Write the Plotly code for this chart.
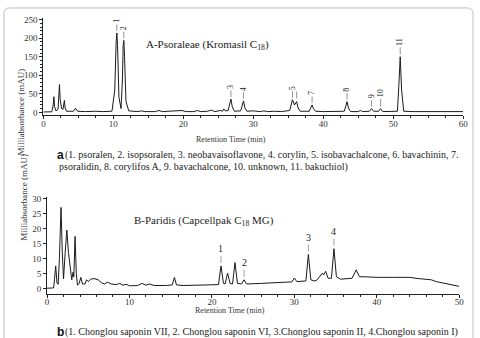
import plotly.graph_objects as go

# ---------------- data: panel A (Psoraleae) ----------------
rt_a = [0, 1.2, 1.4, 1.5, 1.6, 1.8, 2.1, 2.2, 2.3, 2.4, 2.6, 2.8, 2.9, 3.0, 3.1, 3.3,
        4.3, 4.6, 4.9, 6, 7.5, 8.5, 9.8, 10.2, 10.4, 10.5, 10.6, 10.8, 11.1, 11.3,
        11.4, 11.5, 11.6, 11.8, 12.2, 13.5, 14, 14.5, 16, 16.5, 17, 19, 19.8, 20.4,
        21.5, 22, 22.5, 23.5, 24, 24.5, 25, 25.3, 25.6, 25.8, 26.0, 26.4, 26.6, 26.8,
        27.0, 27.3, 28.2, 28.4, 28.6, 28.8, 29.1, 30, 31, 31.5, 32, 33, 34, 35.2,
        35.4, 35.6, 35.9, 36.2, 36.4, 36.7, 38.0, 38.2, 38.4, 38.6, 38.9, 40, 41,
        43.0, 43.2, 43.4, 43.6, 43.9, 45, 45.3, 45.6, 46.6, 46.9, 47.2, 47.9, 48.2,
        48.5, 50.6, 50.8, 51.0, 51.2, 51.5, 53, 55, 57, 60]
mau_a = [1, 1.5, 20, 42, 15, 4, 8, 45, 75, 35, 10, 8, 20, 32, 12, 3,
         3, 11, 3, 2, 3, 2, 3, 60, 190, 214, 180, 40, 10, 90,
         180, 194, 150, 30, 4, 2, 4, 2, 2, 5, 2, 3, 5, 2,
         2, 5, 2, 3, 6, 2, 3, 5, 3, 9, 4, 5, 20, 36,
         15, 3, 4, 18, 31, 12, 3, 4, 2, 4, 2, 3, 2, 5,
         20, 34, 20, 29, 12, 3, 3, 12, 20, 10, 3, 2, 3,
         3, 15, 29, 12, 2, 2, 5, 2, 3, 10, 3, 3, 10,
         2, 3, 70, 150, 60, 3, 2, 2, 2, 2]
peak_labels_a = ["1", "2", "3", "4", "5", "7", "8", "9", "10", "11"]
peak_rt_a = [10.5, 11.5, 26.8, 28.6, 35.6, 38.4, 43.4, 46.9, 48.2, 51.0]
unlabeled_peak_rt_a = [36.2]

# ---------------- data: panel B (Paridis) ----------------
rt_b = [0, 0.8, 0.9, 1.05, 1.2, 1.35, 1.5, 1.7, 1.85, 2.0, 2.2, 2.4, 2.6, 2.8, 3.0,
        3.15, 3.25, 3.4, 3.55, 3.7, 3.9, 4.1, 4.3, 4.6, 4.8, 5.0, 5.3, 5.7, 6.2,
        6.6, 7.0, 7.3, 7.8, 8.4, 8.8, 9.2, 9.6, 10, 11, 11.5, 12, 12.4, 13, 14.5,
        15.2, 15.45, 15.7, 16.5, 18, 19.5, 20.8, 21.1, 21.4, 21.6, 21.9, 22.2, 22.5,
        22.8, 23.1, 23.6, 23.9, 24.2, 26, 28, 29.7, 30.0, 30.3, 31.4, 31.7, 32.0,
        32.4, 32.7, 33.2, 33.4, 33.55, 33.8, 34.1, 34.5, 34.8, 35.1, 35.6, 37.0,
        37.5, 37.9, 38.5, 40, 42, 44, 45, 46, 46.6, 47.2, 48.5, 50]
mau_b = [0.2, 0.3, 3, 7.6, 2, 1.5, 10, 27, 12, 3.3, 12, 19.5, 12, 7, 3,
         5.5, 4, 17.4, 5, 1.2, 1.8, 3.8, 1.6, 1.6, 3, 2.4, 3.2, 3.4, 3.0,
         2.0, 1.6, 2.2, 1.6, 1.4, 1.8, 1.2, 1.5, 1.0, 1.1, 1.8, 1.2, 1.6, 1.1, 1.1,
         1.3, 3.8, 1.3, 1.1, 1.3, 1.3, 1.4, 7.6, 1.8, 1.6, 5.2, 1.8, 1.6,
         8.7, 1.8, 1.6, 3.0, 1.6, 1.8, 2.2, 2.3, 3.6, 2.4, 2.6, 11.4, 3.0,
         2.6, 2.8, 4.5, 5.2, 4.6, 5.8, 3.5, 3.5, 13.3, 4.0, 3.2, 3.5,
         6.3, 4.0, 4.0, 3.8, 3.8, 3.8, 3.4, 3.3, 3.0, 2.4, 1.6, 0.8]
peak_labels_b = ["1", "2", "3", "4"]
peak_rt_b = [21.1, 23.9, 31.7, 34.8]

yticks_a = [0, 50, 100, 150, 200, 250]
yticks_b = [0, 5, 10, 15, 20, 25, 30]
xticks_a = [0, 10, 20, 30, 40, 50, 60]
xticks_b = [0, 10, 20, 30, 40, 50]

caption_a1 = "(1. psoralen, 2. isopsoralen, 3. neobavaisoflavone, 4. corylin, 5. isobavachalcone, 6. bavachinin, 7."
caption_a2 = "psoralidin, 8. corylifos A, 9. bavachalcone, 10. unknown, 11. bakuchiol)"
caption_b = "(1. Chonglou saponin VII, 2. Chonglou saponin VI, 3.Chonglou saponin II, 4.Chonglou saponin I)"

# ---------------- figure ----------------
W, H = 480, 338
SERIF = "Liberation Serif, Times New Roman, serif"
SANS = "Liberation Sans, Arial, sans-serif"


def px(x):
    return x / W


def py(y):
    return 1 - y / H


fig = go.Figure()
fig.add_trace(go.Scatter(x=rt_a, y=mau_a, mode="lines", xaxis="x", yaxis="y",
                         line=dict(color="#1a1a1a", width=1), showlegend=False,
                         hoverinfo="skip"))
fig.add_trace(go.Scatter(x=rt_b, y=mau_b, mode="lines", xaxis="x2", yaxis="y2",
                         line=dict(color="#1a1a1a", width=1), showlegend=False,
                         hoverinfo="skip"))

axis_common = dict(showgrid=False, zeroline=False, showline=True, linecolor="#222",
                   linewidth=1, ticks="outside", ticklen=3, tickcolor="#222",
                   tickfont=dict(family=SERIF, size=9, color="#333"))

fig.update_layout(
    width=W, height=H, margin=dict(l=0, r=0, t=0, b=0),
    paper_bgcolor="white", plot_bgcolor="white",
    xaxis=dict(domain=[px(42), px(468)], range=[0, 60], anchor="y",
               tickvals=xticks_a, ticklabelstandoff=-3,
               minor=dict(dtick=2.5, ticks="outside", ticklen=2, tickcolor="#222"),
               **axis_common),
    yaxis=dict(domain=[py(114), py(15)], range=[-8, 255], anchor="x",
               tickvals=yticks_a,
               minor=dict(dtick=10, ticks="outside", ticklen=2, tickcolor="#222"),
               **axis_common),
    xaxis2=dict(domain=[px(45.7), px(464)], range=[0, 50], anchor="y2",
                tickvals=xticks_b, ticklabelstandoff=-3,
                minor=dict(dtick=2, ticks="outside", ticklen=2, tickcolor="#222"),
                **axis_common),
    yaxis2=dict(domain=[py(295), py(196.8)], range=[-1.6, 30.5], anchor="x2",
                tickvals=yticks_b, **axis_common),
)

ann = []
# peak labels panel A (rotated)
for lab, t in zip(peak_labels_a, peak_rt_a):
    v = mau_a[rt_a.index(t)]
    ann.append(dict(x=t, y=v, xref="x", yref="y", text=lab, textangle=-90,
                    showarrow=True, arrowhead=0, arrowwidth=0.8, arrowcolor="#777",
                    ax=0, ay=-10 if len(lab) <= 1 else -13, yshift=2,
                    standoff=0, font=dict(family=SERIF, size=8, color="#222")))
# peak labels panel B
for lab, t in zip(peak_labels_b, peak_rt_b):
    v = mau_b[rt_b.index(t)]
    ann.append(dict(x=t, y=v, xref="x2", yref="y2", text=lab,
                    showarrow=True, arrowhead=0, arrowwidth=0.8, arrowcolor="#888",
                    ax=0, ay=-14, yshift=3, standoff=0,
                    font=dict(family=SERIF, size=10, color="#222")))

# panel titles
ann.append(dict(x=px(144), y=py(43), xref="paper", yref="paper", showarrow=False,
                xanchor="left", yanchor="middle",
                text="A-Psoraleae (Kromasil C<sub>18</sub>)",
                font=dict(family=SERIF, size=11, color="#222")))
ann.append(dict(x=px(132), y=py(221), xref="paper", yref="paper", showarrow=False,
                xanchor="left", yanchor="middle",
                text="B-Paridis (Capcellpak C<sub>18</sub> MG)",
                font=dict(family=SERIF, size=11, color="#222")))

# axis titles
ann.append(dict(x=px(12), y=py(64), xref="paper", yref="paper", showarrow=False,
                text="Milliabsorbance (mAU)", textangle=-90,
                font=dict(family=SERIF, size=9, color="#333")))
ann.append(dict(x=px(15), y=py(243), xref="paper", yref="paper", showarrow=False,
                text="Milliabsorbance (mAU)", textangle=-90,
                font=dict(family=SERIF, size=9, color="#333")))
ann.append(dict(x=px(232), y=py(139), xref="paper", yref="paper", showarrow=False,
                text="Retention Time (min)", font=dict(family=SERIF, size=8, color="#333")))
ann.append(dict(x=px(231), y=py(319), xref="paper", yref="paper", showarrow=False,
                text="Retention Time (min)", font=dict(family=SERIF, size=8, color="#333")))

# captions
ann.append(dict(x=px(54), y=py(154), xref="paper", yref="paper", showarrow=False,
                xanchor="left", yanchor="middle",
                text="<b>a</b>", font=dict(family=SANS, size=12, color="#111")))
ann.append(dict(x=px(62), y=py(154), xref="paper", yref="paper", showarrow=False,
                xanchor="left", yanchor="middle",
                text=caption_a1, font=dict(family=SERIF, size=10, color="#222")))
ann.append(dict(x=px(56), y=py(166), xref="paper", yref="paper", showarrow=False,
                xanchor="left", yanchor="middle",
                text=caption_a2, font=dict(family=SERIF, size=10, color="#222")))
ann.append(dict(x=px(54), y=py(334), xref="paper", yref="paper", showarrow=False,
                xanchor="left", yanchor="middle",
                text="<b>b</b>", font=dict(family=SANS, size=12, color="#111")))
ann.append(dict(x=px(62), y=py(334), xref="paper", yref="paper", showarrow=False,
                xanchor="left", yanchor="middle",
                text=caption_b, font=dict(family=SERIF, size=10, color="#222")))

fig.update_layout(annotations=ann)

# dash marks above unlabeled peaks (panel A)
for t in unlabeled_peak_rt_a:
    v = mau_a[rt_a.index(t)]
    fig.add_shape(type="line", xref="x", yref="y", x0=t, x1=t,
                  ysizemode="pixel", yanchor=v, y0=3, y1=10,
                  line=dict(color="#777", width=0.8))

# outer frame with rounded top corners
r = 6
path = (f"M {px(2)} {py(H + 5)} L {px(2)} {py(5 + r)} "
        f"Q {px(2)} {py(5)} {px(2 + r)} {py(5)} "
        f"L {px(478 - r)} {py(5)} Q {px(478)} {py(5)} {px(478)} {py(5 + r)} "
        f"L {px(478)} {py(H + 5)}")
fig.add_shape(type="path", path=path, xref="paper", yref="paper",
              line=dict(color="#bdbdbd", width=1))

fig.write_html("out.html")
